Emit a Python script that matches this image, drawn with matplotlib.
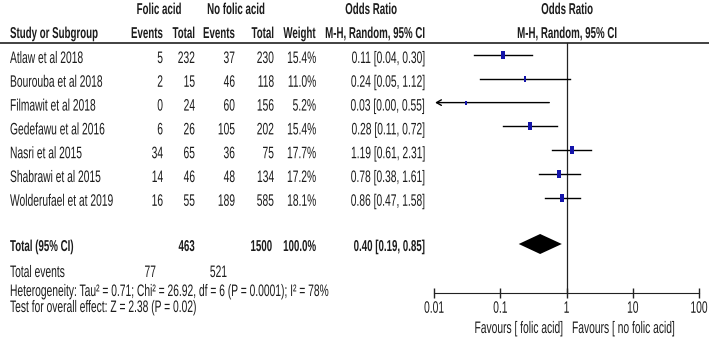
import numpy as np
import matplotlib
matplotlib.use('Agg')
import matplotlib.pyplot as plt
import matplotlib.patheffects as pe
from matplotlib.transforms import Affine2D
from matplotlib import font_manager

# data
studies = ['Atlaw et al 2018', 'Bourouba et al 2018', 'Filmawit et al 2018',
           'Gedefawu et al 2016', 'Nasri et al 2015', 'Shabrawi et al 2015',
           'Wolderufael et at 2019']
fa_events = [5, 2, 0, 6, 34, 14, 16]
fa_total = [232, 15, 24, 26, 65, 46, 55]
nfa_events = [37, 46, 60, 105, 36, 48, 189]
nfa_total = [230, 118, 156, 202, 75, 134, 585]
weights = [15.4, 11.0, 5.2, 15.4, 17.7, 17.2, 18.1]
odds = [0.11, 0.24, 0.03, 0.28, 1.19, 0.78, 0.86]
ci_lo = [0.04, 0.05, 0.00, 0.11, 0.61, 0.38, 0.47]
ci_hi = [0.30, 1.12, 0.55, 0.72, 2.31, 1.61, 1.58]

tot_fa, tot_nfa = 463, 1500
tot_ev_fa, tot_ev_nfa = 77, 521
pooled = (0.40, 0.19, 0.85)
het_text = 'Heterogeneity: Tau² = 0.71; Chi² = 26.92, df = 6 (P = 0.0001); I² = 78%'
test_text = 'Test for overall effect: Z = 2.38 (P = 0.02)'
ticks = [0.01, 0.1, 1, 10, 100]
tick_labels = ['0.01', '0.1', '1', '10', '100']


class Tall(pe.AbstractPathEffect):
    # stretch glyphs upward from the baseline (narrow tall look of the original)
    def __init__(self, sy):
        super().__init__()
        self.sy = sy

    def draw_path(self, renderer, gc, tpath, affine, rgbFace=None):
        renderer.draw_path(gc, tpath, Affine2D().scale(1, self.sy) + affine, rgbFace)


names = {f.name for f in font_manager.fontManager.ttflist}
if 'Liberation Sans Narrow' in names:
    fam, fs, fsb, sy = 'Liberation Sans Narrow', 9.0, 8.6, 1.33
else:
    fam, fs, fsb, sy = 'Liberation Sans', 7.4, 7.0, 1.62
stretch = [Tall(sy)]
tc = '#1c1c1c'

fig = plt.figure(figsize=(7.09, 3.39), dpi=100)
ax = fig.add_axes([0, 0, 1, 1])
ax.set_xlim(0, 709)
ax.set_ylim(339, 0)
ax.axis('off')


def txt(x, y, s, ha='left', bold=False):
    ax.text(x, y, s, ha=ha, va='baseline', fontsize=fsb if bold else fs, family=fam,
            fontweight='bold' if bold else 'normal', color=tc, path_effects=stretch)


# headers
txt(159, 14, 'Folic acid', 'center', True)
txt(236, 14, 'No folic acid', 'center', True)
txt(371, 14, 'Odds Ratio', 'center', True)
txt(567, 14, 'Odds Ratio', 'center', True)
txt(10, 38, 'Study or Subgroup', 'left', True)
txt(163, 38, 'Events', 'right', True)
txt(195, 38, 'Total', 'right', True)
txt(235, 38, 'Events', 'right', True)
txt(274, 38, 'Total', 'right', True)
txt(316, 38, 'Weight', 'right', True)
txt(375, 38, 'M-H, Random, 95% CI', 'center', True)
txt(567, 38, 'M-H, Random, 95% CI', 'center', True)
ax.plot([0, 709], [43, 43], color='#333333', lw=1.3)

rows = 55 + 23.8 * np.arange(len(studies))
for i, y in enumerate(rows):
    b = y + 8
    txt(10, b, studies[i])
    txt(163, b, str(fa_events[i]), 'right')
    txt(195, b, str(fa_total[i]), 'right')
    txt(235, b, str(nfa_events[i]), 'right')
    txt(274, b, str(nfa_total[i]), 'right')
    txt(316, b, '%.1f%%' % weights[i], 'right')
    txt(425, b, '%.2f [%.2f, %.2f]' % (odds[i], ci_lo[i], ci_hi[i]), 'right')

ytot = 244
txt(10, ytot + 7, 'Total (95% CI)', 'left', True)
txt(195, ytot + 7, str(tot_fa), 'right', True)
txt(272, ytot + 7, str(tot_nfa), 'right', True)
txt(316, ytot + 7, '100.0%', 'right', True)
txt(425, ytot + 7, '%.2f [%.2f, %.2f]' % pooled, 'right', True)
txt(10, 277, 'Total events')
txt(156, 277, str(tot_ev_fa), 'right')
txt(227, 277, str(tot_ev_nfa), 'right')
txt(10, 296, het_text)
txt(10, 312, test_text)

# forest panel
ax2 = fig.add_axes([434 / 709, 0, (699 - 434) / 709, 1])
ax2.set_xscale('log')
ax2.set_xlim(0.01, 100)
ax2.set_ylim(339, 0)
ax2.patch.set_visible(False)
for s in ['top', 'left', 'right']:
    ax2.spines[s].set_visible(False)
ax2.spines['bottom'].set_position(('data', 293))
ax2.spines['bottom'].set_color('#222222')
ax2.set_yticks([])
ax2.set_xticks(ticks, tick_labels)
ax2.minorticks_off()
ax2.tick_params(axis='x', direction='inout', length=6.5, width=1, pad=11, colors='#222222')
for lbl in ax2.get_xticklabels():
    lbl.set_va('baseline')
    lbl.set_fontsize(fs)
    lbl.set_family(fam)
    lbl.set_color(tc)
    lbl.set_path_effects(stretch)

ax2.plot([1, 1], [43, 293], color='#222222', lw=0.9)

rect = [(-1, -2), (1, -2), (1, 2), (-1, 2)]
xmin = ax2.get_xlim()[0]
for i, y in enumerate(rows):
    lo = ci_lo[i]
    if lo < xmin:
        ax2.annotate('', xy=(xmin * 1.04, y), xytext=(ci_hi[i], y),
                     arrowprops=dict(arrowstyle='->,head_length=0.35,head_width=0.2',
                                     color='black', lw=1.0, shrinkA=0, shrinkB=0))
    else:
        ax2.plot([lo, ci_hi[i]], [y, y], color='black', lw=1.0)
    h = 1.8 * np.sqrt(weights[i]) * 0.72
    ax2.plot([odds[i]], [y], marker=rect, ms=h, color='#1414aa', mew=0, lw=0, zorder=3)

est, lo, hi = pooled
ax2.fill([lo, est, hi, est], [ytot, ytot - 10, ytot, ytot + 10], color='black', lw=0)

txt(563, 333, 'Favours [ folic acid]', 'right')
txt(572, 333, 'Favours [ no folic acid]', 'left')

fig.savefig('out.png', dpi=100)
